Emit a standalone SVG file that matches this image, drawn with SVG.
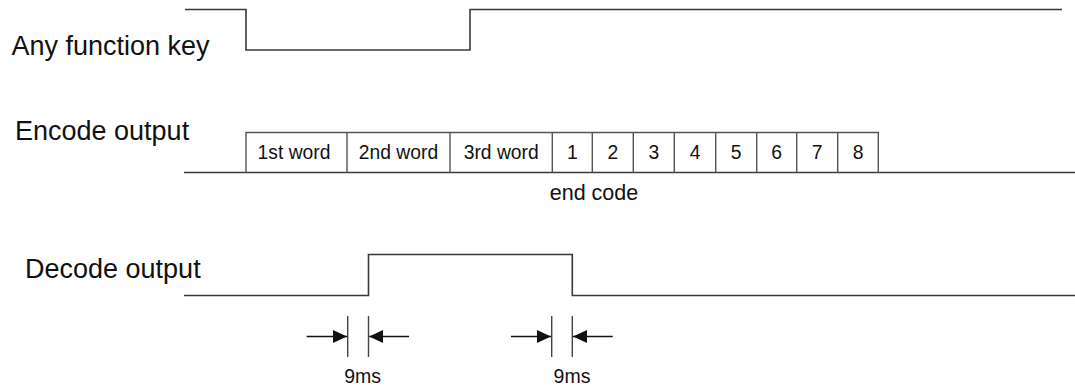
<svg xmlns="http://www.w3.org/2000/svg" width="1075" height="387" viewBox="0 0 1075 387">
<defs>
<style>
.sig{fill:none;stroke:#3a3a3a;stroke-width:1.6}
.box{fill:none;stroke:#555;stroke-width:1.4}
.lbl{font-family:"Liberation Sans",Arial,sans-serif;font-size:27px;fill:#111}
.cell{font-family:"Liberation Sans",Arial,sans-serif;font-size:19.3px;fill:#111;text-anchor:middle}
.note{font-family:"Liberation Sans",Arial,sans-serif;font-size:21.5px;fill:#111;text-anchor:middle}
.ms{font-family:"Liberation Sans",Arial,sans-serif;font-size:19.5px;fill:#111;text-anchor:middle}
.tick{stroke:#444;stroke-width:1.4}
.arr{stroke:#111;stroke-width:1.4;fill:none}
</style>
<marker id="ah" markerWidth="14" markerHeight="14" viewBox="0 0 14 14" refX="14" refY="7" orient="auto" markerUnits="userSpaceOnUse">
<path d="M0,0.5 L14,7 L0,13.5 Z" fill="#111"/>
</marker>
</defs>

<g id="key">
<text class="lbl" x="11.5" y="55">Any function key</text>
<path class="sig" d="M185,9.5 H246 V50 H470 V9.5 H1062"/>
</g>

<g id="encode">
<text class="lbl" x="15" y="140">Encode output</text>
<path class="sig" d="M184,172.5 H1075"/>
<path class="box" d="M246,172.5 V132.5 H878.3 V172.5"/>
<g class="box">
<line x1="347" y1="132.5" x2="347" y2="172.5"/>
<line x1="450" y1="132.5" x2="450" y2="172.5"/>
<line x1="552.3" y1="132.5" x2="552.3" y2="172.5"/>
<line x1="592.3" y1="132.5" x2="592.3" y2="172.5"/>
<line x1="633.3" y1="132.5" x2="633.3" y2="172.5"/>
<line x1="674.3" y1="132.5" x2="674.3" y2="172.5"/>
<line x1="715.7" y1="132.5" x2="715.7" y2="172.5"/>
<line x1="756.7" y1="132.5" x2="756.7" y2="172.5"/>
<line x1="796.7" y1="132.5" x2="796.7" y2="172.5"/>
<line x1="837.7" y1="132.5" x2="837.7" y2="172.5"/>
</g>
<text class="cell" x="294" y="159">1st word</text>
<text class="cell" x="398.5" y="159">2nd word</text>
<text class="cell" x="501.2" y="159">3rd word</text>
<text class="cell" x="572.3" y="159">1</text>
<text class="cell" x="612.8" y="159">2</text>
<text class="cell" x="653.8" y="159">3</text>
<text class="cell" x="695" y="159">4</text>
<text class="cell" x="736.2" y="159">5</text>
<text class="cell" x="776.7" y="159">6</text>
<text class="cell" x="817.2" y="159">7</text>
<text class="cell" x="858" y="159">8</text>
<text class="note" x="594" y="199.5">end code</text>
</g>

<g id="decode">
<text class="lbl" x="25" y="277.5">Decode output</text>
<path class="sig" d="M184,295.5 H368.5 V254.5 H572.3 V295.5 H1075"/>
</g>

<g id="connectors">
<line class="tick" x1="347.7" y1="316" x2="347.7" y2="357"/>
<line class="tick" x1="368.5" y1="316" x2="368.5" y2="357"/>
<line class="arr" x1="306.7" y1="336.5" x2="347" y2="336.5" marker-end="url(#ah)"/>
<line class="arr" x1="409" y1="336.5" x2="369.2" y2="336.5" marker-end="url(#ah)"/>
<line class="tick" x1="551.7" y1="316" x2="551.7" y2="357"/>
<line class="tick" x1="572.3" y1="316" x2="572.3" y2="357"/>
<line class="arr" x1="511" y1="336.5" x2="551" y2="336.5" marker-end="url(#ah)"/>
<line class="arr" x1="612.7" y1="336.5" x2="573" y2="336.5" marker-end="url(#ah)"/>
</g>

<g id="labels">
<text class="ms" x="362.7" y="382.7">9ms</text>
<text class="ms" x="572" y="382.7">9ms</text>
</g>
</svg>
